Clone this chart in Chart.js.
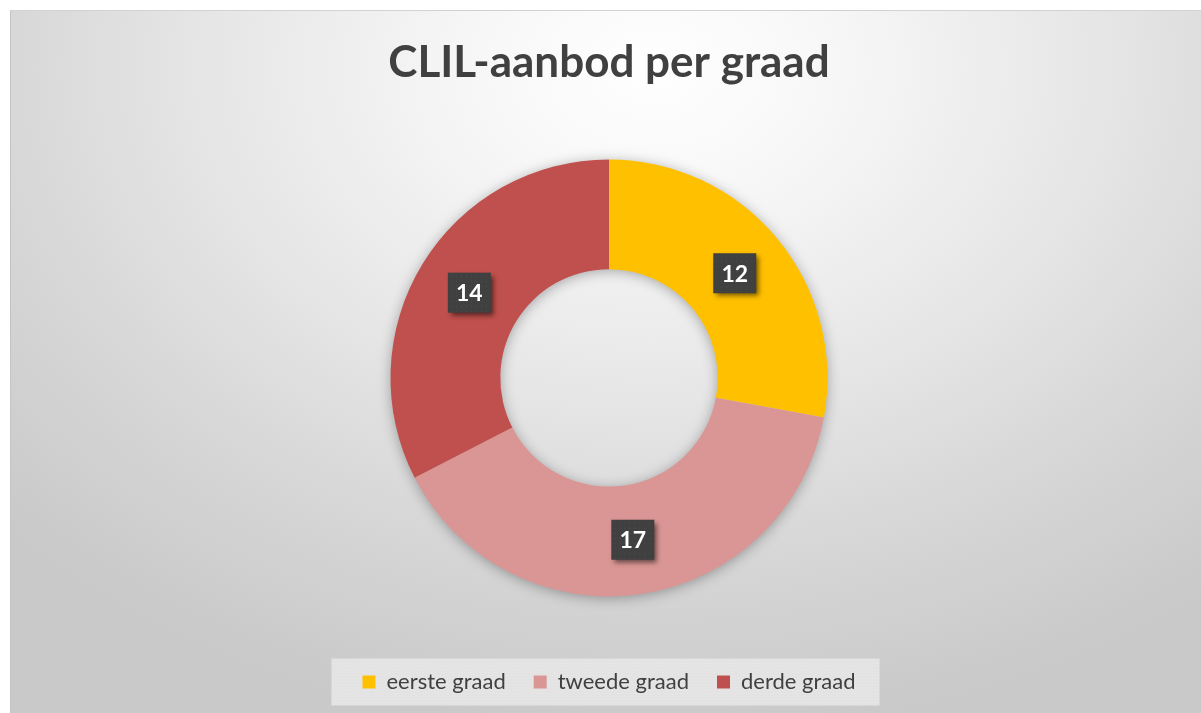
<!DOCTYPE html>
<html>
<head>
<meta charset="utf-8">
<script src="https://cdn.jsdelivr.net/npm/chart.js@4/dist/chart.umd.min.js"></script>
<style>
  html, body { margin: 0; padding: 0; background: #ffffff; }
  #wrap {
    position: absolute; left: 10px; top: 10px; width: 1191px; height: 703px;
    background: radial-gradient(ellipse 75% 95% at 54% 8%, #ffffff 0%, #f6f6f6 22%, #e6e6e6 50%, #d6d6d6 75%, #c9c9c9 100%);
    border-top: 1px solid #d2d2d2; border-left: 1px solid #c4c4c4; box-sizing: border-box;
  }
  canvas { display: block; }
</style>
</head>
<body>
<div id="wrap"><canvas id="c" width="1190" height="702"></canvas></div>
<script>
const titleText = 'CLIL-aanbod per graad';
const categories = ['eerste graad', 'tweede graad', 'derde graad'];
const values = [12, 17, 14];
const colors = ['#FFC000', '#DA9694', '#C0504D'];

const valueBoxes = {
  id: 'valueBoxes',
  beforeDatasetsDraw(chart) {
    const meta = chart.getDatasetMeta(0);
    const a = meta.data[0];
    if (!a) return;
    const ctx = chart.ctx;
    ctx.save();
    ctx.shadowColor = 'rgba(0,0,0,0.35)';
    ctx.shadowBlur = 14;
    ctx.shadowOffsetY = 2;
    ctx.beginPath();
    ctx.arc(a.x, a.y, a.outerRadius - 1, 0, Math.PI * 2);
    ctx.arc(a.x, a.y, a.innerRadius + 1, 0, Math.PI * 2, true);
    ctx.fillStyle = '#cccccc';
    ctx.fill();
    ctx.restore();
  },
  afterDatasetsDraw(chart) {
    const ctx = chart.ctx;
    const meta = chart.getDatasetMeta(0);
    meta.data.forEach((arc, i) => {
      const p = arc.tooltipPosition();
      const w = 43, h = 40;
      ctx.save();
      ctx.shadowColor = 'rgba(0,0,0,0.55)';
      ctx.shadowBlur = 5;
      ctx.shadowOffsetX = 3;
      ctx.shadowOffsetY = 3;
      ctx.fillStyle = '#404040';
      ctx.fillRect(p.x - w / 2, p.y - h / 2, w, h);
      ctx.restore();
      ctx.save();
      ctx.fillStyle = 'rgba(90,90,90,0.6)';
      for (let yy = p.y - h / 2 + 3; yy < p.y + h / 2 - 1; yy += 5) {
        for (let xx = p.x - w / 2 + 3; xx < p.x + w / 2 - 1; xx += 5) {
          ctx.fillRect(xx, yy, 1, 1);
        }
      }
      ctx.fillStyle = '#ffffff';
      ctx.font = 'bold 23px Lato';
      ctx.textAlign = 'center';
      ctx.textBaseline = 'middle';
      ctx.fillText(String(chart.data.datasets[0].data[i]), p.x, p.y + 1);
      ctx.restore();
    });
  },
  beforeDraw(chart) {
    const lg = chart.legend;
    if (!lg || !lg.legendHitBoxes || !lg.legendHitBoxes.length) return;
    const hb = lg.legendHitBoxes;
    const first = hb[0], last = hb[hb.length - 1];
    const cy = first.top + first.height / 2;
    const left = first.left - 31;
    const right = last.left + last.width + 24;
    const ctx = chart.ctx;
    ctx.save();
    ctx.fillStyle = '#e3e3e3';
    ctx.fillRect(left, cy - 23.5, right - left, 47);
    ctx.fillStyle = 'rgba(255,255,255,0.25)';
    for (let yy = cy - 22; yy < cy + 23; yy += 3) {
      for (let xx = left + 1; xx < right - 1; xx += 3) {
        ctx.fillRect(xx, yy, 1, 1);
      }
    }
    ctx.restore();
  }
};

new Chart(document.getElementById('c'), {
  type: 'doughnut',
  data: {
    labels: categories,
    datasets: [{
      data: values,
      backgroundColor: colors,
      borderWidth: 0,
      radius: 218.5,
      cutout: '49.75%'
    }]
  },
  options: {
    responsive: false,
    animation: false,
    layout: { padding: { left: 6, right: 0, top: 0, bottom: 10 } },
    plugins: {
      title: {
        display: true,
        text: titleText,
        color: '#404040',
        font: { family: 'Lato', size: 44, weight: 'bold', lineHeight: 1.2 },
        padding: { top: 25, bottom: 24 }
      },
      legend: {
        position: 'bottom',
        labels: {
          color: '#404040',
          font: { family: 'Lato', size: 22 },
          boxWidth: 13,
          boxHeight: 13,
          padding: 28
        }
      },
      tooltip: { enabled: false }
    }
  },
  plugins: [valueBoxes]
});
</script>
</body>
</html>
